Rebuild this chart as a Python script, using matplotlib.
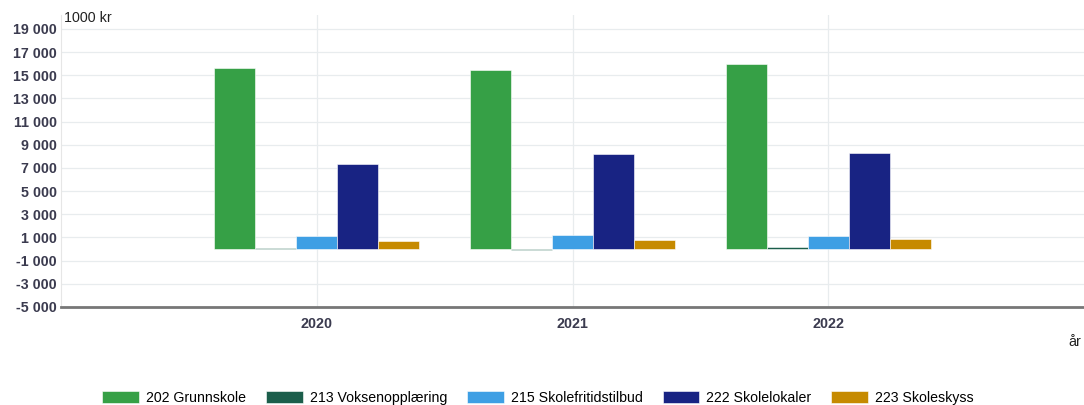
import matplotlib.pyplot as plt
import numpy as np

plt.rcParams["font.family"] = ["Liberation Sans", "DejaVu Sans"]

years = ["2020", "2021", "2022"]
series = ["202 Grunnskole", "213 Voksenopplæring", "215 Skolefritidstilbud",
          "222 Skolelokaler", "223 Skoleskyss"]
grunnskole = [15650, 15470, 15990]
voksen = [100, -120, 180]
sfo = [1090, 1230, 1170]
lokaler = [7370, 8230, 8320]
skyss = [720, 800, 890]
colors = ["#36a046", "#1b5e4b", "#3e9fe4", "#182383", "#c68a00"]

values = [grunnskole, voksen, sfo, lokaler, skyss]

fig = plt.figure(figsize=(10.84, 4.05), dpi=100)
ax = fig.add_axes([61 / 1084, 1 - 307 / 405, 1 - 61 / 1084, (307 - 15) / 405])

x = np.arange(len(years))
w = 0.16
for i, (vals, name, c) in enumerate(zip(values, series, colors)):
    ax.bar(x + (i - 2) * w, vals, w, color=c, label=name,
           edgecolor="white", linewidth=0.4, zorder=3)

ax.set_xlim(-1, 3)
ax.set_ylim(-5000, 20200)
yt = np.arange(-5000, 19001, 2000)
ax.set_yticks(yt)
ax.set_yticklabels([f"{v:,}".replace(",", " ") for v in yt])
ax.set_xticks(x)
ax.set_xticklabels(years)
ax.tick_params(axis="both", length=0, labelsize=10.3, colors="#3b3b4f")
ax.tick_params(axis="x", pad=7)
ax.tick_params(axis="y", pad=3)
for lab in ax.get_xticklabels() + ax.get_yticklabels():
    lab.set_fontweight("bold")

ax.grid(True, color="#e8ecee", linewidth=0.9, zorder=0)
for s in ["top", "right"]:
    ax.spines[s].set_visible(False)
ax.spines["left"].set_color("#e6e6e6")
ax.spines["bottom"].set_color("#777777")
ax.spines["bottom"].set_linewidth(2)

fig.text(64 / 1084, 1 - 18 / 405, "1000 kr", fontsize=10.3, color="#222222",
         va="center", ha="left")
fig.text(1075 / 1084, 1 - 342 / 405, "år", fontsize=10.3, color="#222222",
         va="center", ha="center")

fig.legend(loc="center", bbox_to_anchor=(538 / 1084, 1 - 398 / 405), ncol=5,
           frameon=False, fontsize=10.2, handlelength=2.6, handleheight=0.9,
           columnspacing=1.4, handletextpad=0.5)

fig.savefig("out.png", dpi=100)
